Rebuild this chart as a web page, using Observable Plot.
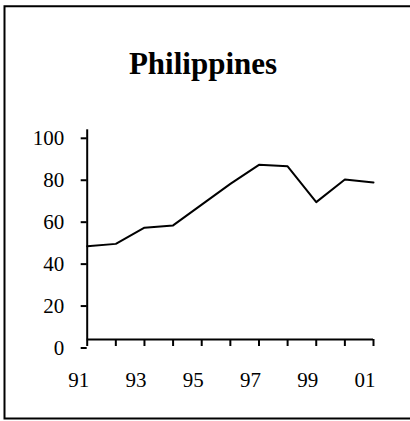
<!DOCTYPE html>
<html>
<head>
<meta charset="utf-8">
<script src="https://cdn.jsdelivr.net/npm/d3@7"></script>
<script src="https://cdn.jsdelivr.net/npm/@observablehq/plot@0.6"></script>
<style>
  html, body { margin: 0; padding: 0; background: #fff; overflow: hidden; width: 410px; height: 421px; }
  #wrap { position: relative; width: 410px; height: 421px; overflow: hidden; }
  #chart { position: absolute; left: 0; top: 0; }
  #title { position: absolute; left: 0; width: 406px; top: 46px; text-align: center; font-family: "Liberation Serif", "Times New Roman", Times, serif; font-weight: 700; font-size: 31px; line-height: 36px; color: #000; }
</style>
</head>
<body>
<div id="wrap"><div id="chart"></div><div id="title"></div></div>
<script>
const title = "Philippines";
const years = [1991, 1992, 1993, 1994, 1995, 1996, 1997, 1998, 1999, 2000, 2001];
const values = [44.5, 45.6, 53.3, 54.4, 64.3, 74.2, 83.3, 82.6, 65.5, 76.3, 74.9];
const yTicks = [0, 20, 40, 60, 80, 100];
const xLabelYears = [1991, 1993, 1995, 1997, 1999, 2001];
const xLabels = ["91", "93", "95", "97", "99", "01"];

const data = years.map((y, i) => ({year: y, value: values[i]}));
const font = '"Liberation Serif", "Times New Roman", serif';

document.getElementById("title").textContent = title;

const chart = Plot.plot({
  width: 410,
  height: 421,
  marginLeft: 86.7,
  marginRight: 37,
  marginTop: 129.3,
  marginBottom: 82,
  style: {fontFamily: font, fontSize: "21px", color: "#000", background: "transparent"},
  x: {domain: [years[0], years[years.length - 1]]},
  y: {domain: [0, 100]},
  marks: [
    Plot.axisY(yTicks, {tickSize: 6, tickPadding: 17, dy: 8.5, strokeWidth: 2, label: null, fontSize: 21}),
    Plot.axisX(years, {tickSize: 7, tickFormat: () => "", strokeWidth: 2, label: null}),
    Plot.axisX(xLabelYears, {tickSize: 0, tickPadding: 33, dx: -8.5, tickFormat: (d) => xLabels[xLabelYears.indexOf(d)], label: null, fontSize: 21}),
    Plot.ruleX([years[0]], {strokeWidth: 2}),
    Plot.ruleY([0], {strokeWidth: 2}),
    Plot.line(data, {x: "year", y: "value", stroke: "#000", strokeWidth: 2})
  ]
});
// outer border of the chart area (left, top, bottom; right edge lies outside the picture)
d3.select(chart).append("path")
  .attr("d", "M 420 6.3 H 4.5 V 418.5 H 420")
  .attr("fill", "none")
  .attr("stroke", "#000")
  .attr("stroke-width", 2);
document.getElementById("chart").append(chart);
</script>
</body>
</html>
